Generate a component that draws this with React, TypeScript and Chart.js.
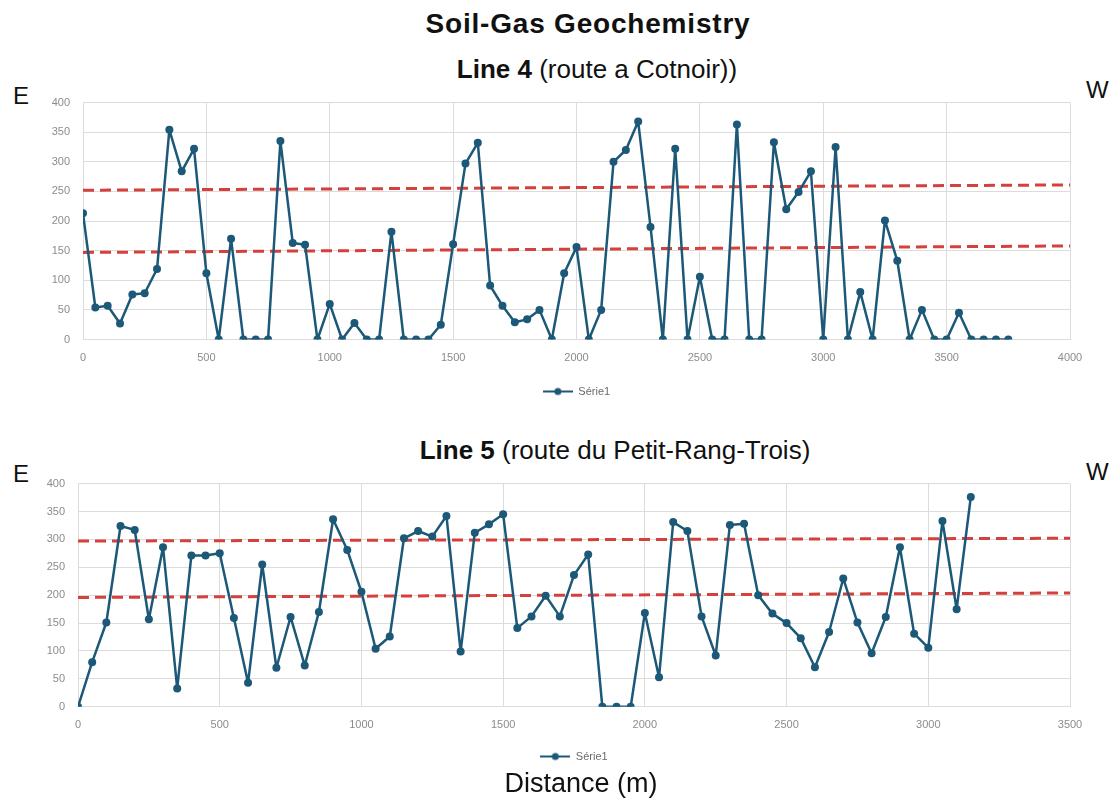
import React, { useEffect, useRef } from "react";
import { Chart, registerables } from "chart.js";

Chart.register(...registerables);

// ---------- DATA ----------
const seriesLabel = "Série1";

const line4Distance = [
  0, 50, 100, 150, 200, 250, 300, 350, 400, 450, 500, 550, 600, 650, 700, 750,
  800, 850, 900, 950, 1000, 1050, 1100, 1150, 1200, 1250, 1300, 1350, 1400, 1450,
  1500, 1550, 1600, 1650, 1700, 1750, 1800, 1850, 1900, 1950, 2000, 2050, 2100,
  2150, 2200, 2250, 2300, 2350, 2400, 2450, 2500, 2550, 2600, 2650, 2700, 2750,
  2800, 2850, 2900, 2950, 3000, 3050, 3100, 3150, 3200, 3250, 3300, 3350, 3400,
  3450, 3500, 3550, 3600, 3650, 3700, 3750,
];
const line4Values = [
  213, 54, 57, 27, 76, 78, 119, 354, 284, 322, 112, 0, 170, 0, 0, 0,
  335, 163, 160, 0, 60, 0, 28, 0, 0, 182, 0, 0, 0, 25,
  161, 297, 332, 91, 57, 29, 34, 50, 0, 112, 156, 0, 50,
  300, 320, 368, 190, 0, 322, 0, 106, 0, 0, 363, 0, 0,
  333, 220, 249, 284, 0, 325, 0, 80, 0, 201, 133, 0, 50,
  0, 0, 45, 0, 0, 0, 0,
];
const line4ThresholdDistance = [0, 4000];
const line4UpperThreshold = [252, 261];
const line4LowerThreshold = [147, 158];

const line5Distance = [
  0, 50, 100, 150, 200, 250, 300, 350, 400, 450, 500, 550, 600, 650, 700, 750,
  800, 850, 900, 950, 1000, 1050, 1100, 1150, 1200, 1250, 1300, 1350, 1400, 1450,
  1500, 1550, 1600, 1650, 1700, 1750, 1800, 1850, 1900, 1950, 2000, 2050, 2100,
  2150, 2200, 2250, 2300, 2350, 2400, 2450, 2500, 2550, 2600, 2650, 2700, 2750,
  2800, 2850, 2900, 2950, 3000, 3050, 3100, 3150,
];
const line5Values = [
  0, 80, 151, 324, 317, 157, 286, 33, 271, 271, 275, 159, 43, 255, 70, 161,
  74, 170, 336, 281, 206, 104, 126, 302, 315, 305, 342, 99, 312, 327,
  345, 141, 162, 199, 162, 236, 273, 0, 0, 0, 168, 53, 331,
  315, 162, 92, 326, 328, 200, 167, 150, 123, 71, 134, 230, 151,
  96, 161, 286, 131, 106, 333, 175, 376,
];
const line5ThresholdDistance = [0, 3500];
const line5UpperThreshold = [297, 302];
const line5LowerThreshold = [196, 204];

const yTicksMax = 400;
const yTickStep = 50;
const xTickStep = 500;

// ---------- STYLE ----------
const FONT = "'Liberation Sans', Arial, Helvetica, sans-serif";
const BLUE = "#1c5877";
const RED = "#d4403b";
const GRID = "#dcdcdc";
const TICK = "#8c8c8c";

function makeLegendIcon(): HTMLCanvasElement {
  const c = document.createElement("canvas");
  c.width = 30;
  c.height = 10;
  const ctx = c.getContext("2d")!;
  ctx.strokeStyle = BLUE;
  ctx.lineWidth = 2;
  ctx.beginPath();
  ctx.moveTo(0, 5);
  ctx.lineTo(30, 5);
  ctx.stroke();
  ctx.fillStyle = BLUE;
  ctx.beginPath();
  ctx.arc(15, 5, 3.5, 0, Math.PI * 2);
  ctx.fill();
  return c;
}

type Cfg = {
  distance: number[];
  values: number[];
  thrX: number[];
  upper: number[];
  lower: number[];
  xMax: number;
  yAxisWidth: number;
  padRight: number;
  legendPadding: number;
};

function buildConfig(c: Cfg): any {
  const icon = makeLegendIcon();
  const tickFmt = (v: any) => String(v);
  return {
    type: "line",
    data: {
      datasets: [
        {
          label: seriesLabel,
          data: c.distance.map((d, i) => ({ x: d, y: c.values[i] })),
          borderColor: BLUE,
          backgroundColor: BLUE,
          borderWidth: 2.5,
          borderJoinStyle: "round",
          borderCapStyle: "round",
          pointRadius: 4,
          pointBackgroundColor: BLUE,
          pointBorderColor: BLUE,
          pointBorderWidth: 0,
          tension: 0,
          order: 0,
        },
        {
          label: "upper",
          data: c.thrX.map((x, i) => ({ x, y: c.upper[i] })),
          borderColor: RED,
          borderWidth: 3,
          borderDash: [11, 6],
          pointRadius: 0,
          order: 1,
        },
        {
          label: "lower",
          data: c.thrX.map((x, i) => ({ x, y: c.lower[i] })),
          borderColor: RED,
          borderWidth: 3,
          borderDash: [11, 6],
          pointRadius: 0,
          order: 1,
        },
      ],
    },
    options: {
      responsive: false,
      animation: false,
      layout: { padding: { top: 0, right: c.padRight, left: 0, bottom: 0 } },
      scales: {
        x: {
          type: "linear",
          min: 0,
          max: c.xMax,
          ticks: {
            stepSize: xTickStep,
            color: TICK,
            font: { size: 11, family: FONT },
            padding: 12,
            maxRotation: 0,
            callback: tickFmt,
          },
          grid: { color: GRID, drawTicks: false, lineWidth: 1 },
          border: { display: false },
          afterFit: (s: any) => {
            s.height = 30;
          },
        },
        y: {
          min: 0,
          max: yTicksMax,
          ticks: {
            stepSize: yTickStep,
            color: TICK,
            font: { size: 11, family: FONT },
            padding: 13,
            callback: tickFmt,
          },
          grid: { color: GRID, drawTicks: false, lineWidth: 1 },
          border: { display: false },
          afterFit: (s: any) => {
            s.width = c.yAxisWidth;
          },
        },
      },
      plugins: {
        legend: {
          position: "bottom",
          fullSize: false,
          labels: {
            usePointStyle: true,
            pointStyleWidth: 30,
            padding: c.legendPadding,
            color: "#6a6a6a",
            font: { size: 11, family: FONT },
            generateLabels: (chart: any) =>
              Chart.defaults.plugins.legend.labels
                .generateLabels(chart)
                .filter((l: any) => l.datasetIndex === 0)
                .map((l: any) => ({ ...l, pointStyle: icon })),
          },
        },
        tooltip: { enabled: false },
      },
    },
  };
}

function LineChart(props: { cfg: Cfg; top: number; height: number }) {
  const ref = useRef<HTMLCanvasElement>(null);
  useEffect(() => {
    if (!ref.current) return;
    const chart = new Chart(ref.current, buildConfig(props.cfg));
    return () => chart.destroy();
  }, []);
  return (
    <canvas
      ref={ref}
      width={1117}
      height={props.height}
      style={{ position: "absolute", left: 0, top: props.top, width: 1117, height: props.height }}
    />
  );
}

function Txt(props: {
  x: number;
  baseline: number;
  size: number;
  center?: boolean;
  children: React.ReactNode;
  weight?: string;
  spacing?: number;
}) {
  const top = props.baseline - 0.8465 * props.size;
  return (
    <div
      style={{
        position: "absolute",
        left: props.x,
        top,
        fontSize: props.size,
        lineHeight: props.size + "px",
        fontFamily: FONT,
        fontWeight: props.weight || "normal",
        letterSpacing: props.spacing ? props.spacing + "px" : undefined,
        whiteSpace: "nowrap",
        color: "#111",
        transform: props.center ? "translateX(-50%)" : undefined,
      }}
    >
      {props.children}
    </div>
  );
}

export default function App() {
  const cfg4: Cfg = {
    distance: line4Distance,
    values: line4Values,
    thrX: line4ThresholdDistance,
    upper: line4UpperThreshold,
    lower: line4LowerThreshold,
    xMax: 4000,
    yAxisWidth: 83,
    padRight: 47,
    legendPadding: 16.5,
  };
  const cfg5: Cfg = {
    distance: line5Distance,
    values: line5Values,
    thrX: line5ThresholdDistance,
    upper: line5UpperThreshold,
    lower: line5LowerThreshold,
    xMax: 3500,
    yAxisWidth: 78,
    padRight: 47,
    legendPadding: 14.2,
  };
  return (
    <div
      style={{
        position: "absolute",
        left: 0,
        top: 0,
        width: 1117,
        height: 805,
        background: "#fff",
        overflow: "hidden",
      }}
    >
      <Txt x={588} baseline={33.5} size={28} center weight="bold" spacing={0.8}>
        Soil-Gas Geochemistry
      </Txt>
      <Txt x={597} baseline={78.3} size={26} center>
        <b>Line 4</b> (route a Cotnoir))
      </Txt>
      <Txt x={13} baseline={104} size={24}>
        E
      </Txt>
      <Txt x={1086} baseline={98} size={24}>
        W
      </Txt>
      <LineChart cfg={cfg4} top={83.1} height={324.4} />
      <Txt x={615} baseline={459} size={26} center>
        <b>Line 5</b> (route du Petit-Rang-Trois)
      </Txt>
      <Txt x={13} baseline={482} size={24}>
        E
      </Txt>
      <Txt x={1086} baseline={480} size={24}>
        W
      </Txt>
      <LineChart cfg={cfg5} top={463.7} height={308.8} />
      <Txt x={581} baseline={793} size={27} center>
        Distance (m)
      </Txt>
    </div>
  );
}
